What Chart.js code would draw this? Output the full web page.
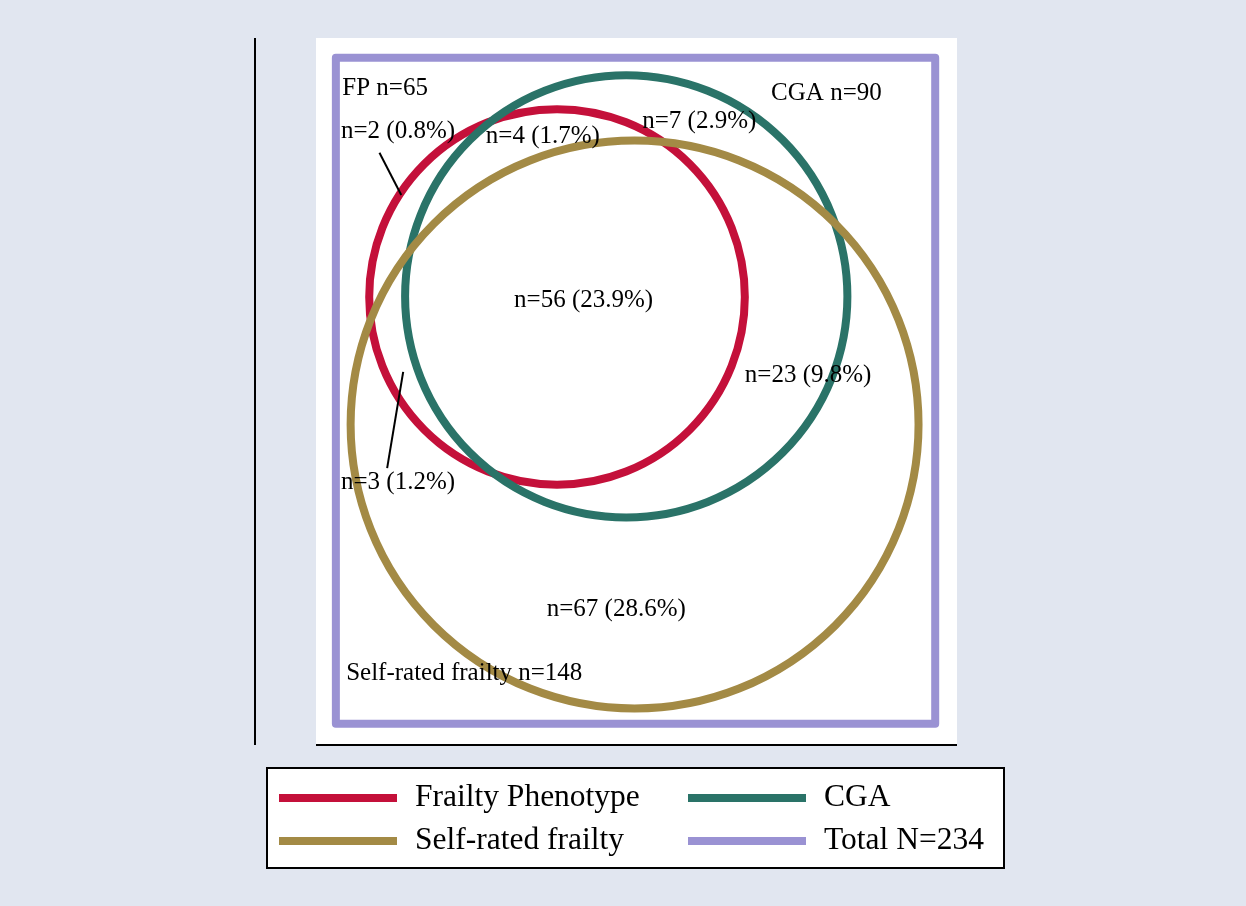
<!DOCTYPE html>
<html>
<head>
<meta charset="utf-8">
<script src="https://cdn.jsdelivr.net/npm/chart.js@4.4.1/dist/chart.umd.min.js"></script>
<style>
  html, body { margin: 0; padding: 0; background: #e1e6f0; }
  canvas { display: block; }
</style>
</head>
<body>
<canvas id="venn" width="1246" height="906"></canvas>
<script>
// groups shown as circles
const groups = ["Frailty Phenotype", "CGA", "Self-rated frailty"];
const groupColors = ["#c4103a", "#2a7368", "#a38a45"];
const centerX = [37.6, 48.4, 49.7];
const centerY = [69.9, 70.0, 50.0];
const radius = [29.3, 34.5, 44.3];

// total sample box
const totalLabel = "Total N=234";
const totalColor = "#9a92d3";
const boxX = [3.1, 96.6, 96.6, 3.1, 3.1];
const boxY = [3.3, 3.3, 107.2, 107.2, 3.3];

// text inside the plot
const labelText = ["FP n=65", "CGA n=90", "n=2 (0.8%)", "n=4 (1.7%)", "n=7 (2.9%)",
    "n=56 (23.9%)", "n=23 (9.8%)", "n=3 (1.2%)", "n=67 (28.6%)", "Self-rated frailty n=148"];
const labelX = [4.1, 71.0, 3.9, 26.5, 50.9, 30.9, 66.9, 3.9, 36.0, 4.7];
const labelY = [102.5, 101.6, 95.8, 94.9, 97.3, 69.3, 57.7, 41.0, 21.1, 11.2];

// little pointer lines for n=2 and n=3
const pointerA = [{ x: 9.9, y: 92.4 }, { x: 13.3, y: 85.8 }];
const pointerB = [{ x: 13.6, y: 58.2 }, { x: 11.1, y: 43.2 }];

const serif = "'Liberation Serif', 'DejaVu Serif', serif";

// circle radius is in data units, turn it into pixels with the x scale
function pxRadius(ctx) {
    const s = ctx.chart.scales.x;
    const v = Math.abs(s.getPixelForValue(radius[ctx.datasetIndex]) - s.getPixelForValue(0));
    return isNaN(v) ? 0 : v;
}

const datasets = groups.map((g, i) => ({
    type: 'bubble',
    label: g,
    data: [{ x: centerX[i], y: centerY[i] }],
    radius: pxRadius,
    backgroundColor: 'rgba(0,0,0,0)',
    borderColor: groupColors[i],
    borderWidth: 8,
    clip: false,
    order: 4 - i
}));

datasets.push({
    type: 'line',
    label: totalLabel,
    data: boxX.map((x, i) => ({ x: x, y: boxY[i] })),
    borderColor: totalColor,
    borderWidth: 8,
    borderJoinStyle: 'round',
    pointRadius: 0,
    fill: false,
    order: 1
});

[pointerA, pointerB].forEach(p => {
    datasets.push({
        type: 'line',
        label: '',
        data: p,
        borderColor: '#000',
        borderWidth: 2,
        pointRadius: 0,
        fill: false,
        order: 0
    });
});

const backdrop = {
    id: 'backdrop',
    beforeDraw(chart) {
        const c = chart.ctx, a = chart.chartArea;
        c.save();
        c.fillStyle = '#e1e6f0';
        c.fillRect(0, 0, chart.width, chart.height);
        c.fillStyle = '#ffffff';
        c.fillRect(a.left, a.top, a.right - a.left, a.bottom - a.top);
        c.restore();
    },
    afterDraw(chart) {
        const c = chart.ctx, a = chart.chartArea;
        c.save();
        c.strokeStyle = '#000';
        c.lineWidth = 2;
        // y axis sits off to the left, x axis along the bottom
        c.beginPath();
        c.moveTo(a.left - 61, a.top);
        c.lineTo(a.left - 61, a.bottom);
        c.moveTo(a.left, a.bottom);
        c.lineTo(a.right, a.bottom);
        c.stroke();

        // legend box
        const lx = 266, ly = 767, lw = 739, lh = 102;
        c.fillStyle = '#ffffff';
        c.fillRect(lx, ly, lw, lh);
        c.strokeRect(lx + 1, ly + 1, lw - 2, lh - 2);
        const items = chart.data.datasets.slice(0, 4);
        const colX = [279, 688];
        const rowY = [798, 841];
        c.font = '31.5px ' + serif;
        c.textBaseline = 'middle';
        items.forEach((d, i) => {
            const x = colX[i % 2], y = rowY[Math.floor(i / 2)];
            c.strokeStyle = d.borderColor;
            c.lineWidth = 8;
            c.beginPath();
            c.moveTo(x, y);
            c.lineTo(x + 118, y);
            c.stroke();
            c.fillStyle = '#000';
            c.fillText(d.label, x + 136, y);
        });
        c.restore();
    }
};

const plotText = {
    id: 'plotText',
    afterDatasetsDraw(chart) {
        const c = chart.ctx, sx = chart.scales.x, sy = chart.scales.y;
        c.save();
        c.font = '25px ' + serif;
        c.fillStyle = '#000';
        c.textBaseline = 'middle';
        labelText.forEach((t, i) => {
            c.fillText(t, sx.getPixelForValue(labelX[i]), sy.getPixelForValue(labelY[i]));
        });
        c.restore();
    }
};

const chart = new Chart(document.getElementById('venn'), {
    type: 'bubble',
    data: { datasets: datasets },
    options: {
        responsive: false,
        animation: false,
        events: [],
        layout: { autoPadding: false, padding: { left: 316, right: 289, top: 38, bottom: 161 } },
        scales: {
            x: { type: 'linear', min: 0, max: 100, display: false },
            y: { type: 'linear', min: 0, max: 110.3, display: false }
        },
        plugins: {
            legend: { display: false },
            tooltip: { enabled: false }
        }
    },
    plugins: [backdrop, plotText]
});

// scales only exist after the first layout, so parse the circles again now
chart.data.datasets.forEach(d => {
    if (d.type === 'bubble') d.data = d.data.slice();
});
chart.update();
</script>
</body>
</html>
